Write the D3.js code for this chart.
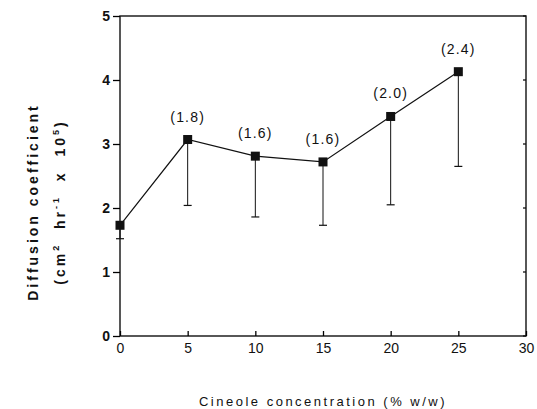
<!DOCTYPE html>
<html>
<head>
<meta charset="utf-8">
<script src="https://cdn.jsdelivr.net/npm/d3@7"></script>
<style>
  body { margin: 0; background: #fff; }
  text { font-family: "Liberation Sans", Arial, sans-serif; fill: #111; }
</style>
</head>
<body>
<script>
// cineole concentration (% w/w)
var conc = [0, 5, 10, 15, 20, 25];
// diffusion coefficient (cm2 hr-1 x 10^5)
var diff = [1.73, 3.07, 2.81, 2.72, 3.43, 4.13];
// lower end of error bar
var lower = [1.52, 2.04, 1.86, 1.73, 2.05, 2.65];
// numbers in brackets above points
var notes = ['', '(1.8)', '(1.6)', '(1.6)', '(2.0)', '(2.4)'];
var xTicks = [0, 5, 10, 15, 20, 25, 30];
var yTicks = [0, 1, 2, 3, 4, 5];

var w = 537, h = 409;
// plot box (note: "top" is taken by window.top)
var pL = 120, pR = 526, pT = 16, pB = 336;

var svg = d3.select("body").append("svg")
    .attr("width", w)
    .attr("height", h);

var x = d3.scaleLinear().domain([0, 30]).range([pL, pR]);
var y = d3.scaleLinear().domain([0, 5]).range([pB, pT]);

// frame
svg.append("rect")
    .attr("x", pL).attr("y", pT)
    .attr("width", pR - pL).attr("height", pB - pT)
    .attr("fill", "none").attr("stroke", "#111").attr("stroke-width", 1.4);

var yAxis = svg.append("g")
    .attr("transform", "translate(" + pL + ",0)")
    .call(d3.axisLeft(y).tickValues(yTicks).tickSize(7).tickPadding(3).tickFormat(d3.format("d")));
yAxis.select(".domain").remove();
yAxis.selectAll("text").attr("font-size", 14).attr("font-weight", "bold");

var xAxis = svg.append("g")
    .attr("transform", "translate(0," + pB + ")")
    .call(d3.axisBottom(x).tickValues(xTicks).tickSize(-5).tickPadding(4).tickFormat(d3.format("d")));
xAxis.select(".domain").remove();
xAxis.selectAll("text").attr("font-size", 14).attr("dy", "0.9em");

// small ticks on the right edge
svg.selectAll(".rtick")
    .data(yTicks)
    .enter()
    .append("line")
    .attr("x1", pR - 3).attr("x2", pR)
    .attr("y1", function(d) { return y(d); })
    .attr("y2", function(d) { return y(d); })
    .attr("stroke", "#111");

svg.selectAll("line, path").attr("stroke-width", 1.3);

// error bars (lower only)
var bars = svg.selectAll(".err")
    .data(conc)
    .enter()
    .append("g");
bars.append("line")
    .attr("x1", function(d) { return x(d); })
    .attr("x2", function(d) { return x(d); })
    .attr("y1", function(d, i) { return y(diff[i]); })
    .attr("y2", function(d, i) { return y(lower[i]); })
    .attr("stroke", "#111").attr("stroke-width", 1);
bars.append("line")
    .attr("x1", function(d) { return x(d) - 4; })
    .attr("x2", function(d) { return x(d) + 4; })
    .attr("y1", function(d, i) { return y(lower[i]); })
    .attr("y2", function(d, i) { return y(lower[i]); })
    .attr("stroke", "#111").attr("stroke-width", 1.2);

// line through the means
var line = d3.line()
    .x(function(d) { return x(d); })
    .y(function(d, i) { return y(diff[i]); });
svg.append("path")
    .datum(conc)
    .attr("d", line)
    .attr("fill", "none")
    .attr("stroke", "#111")
    .attr("stroke-width", 1.2);

svg.selectAll(".pt")
    .data(conc)
    .enter()
    .append("rect")
    .attr("x", function(d) { return x(d) - 4.5; })
    .attr("y", function(d, i) { return y(diff[i]) - 4.5; })
    .attr("width", 9).attr("height", 9)
    .attr("fill", "#111");

svg.selectAll(".note")
    .data(conc)
    .enter()
    .append("text")
    .text(function(d, i) { return notes[i]; })
    .attr("x", function(d) { return x(d); })
    .attr("y", function(d, i) { return y(diff[i]) - 18; })
    .attr("text-anchor", "middle")
    .attr("font-size", 14)
    .attr("letter-spacing", 1.2);

// axis titles
svg.append("text")
    .attr("x", (pL + pR) / 2)
    .attr("y", 406)
    .attr("text-anchor", "middle")
    .attr("font-size", 13)
    .attr("letter-spacing", 2.5)
    .text("Cineole concentration (% w/w)");

var yt = svg.append("g")
    .attr("transform", "translate(38,202) rotate(-90)");
yt.append("text")
    .attr("text-anchor", "middle")
    .attr("font-size", 14)
    .attr("font-weight", "bold")
    .attr("letter-spacing", 3)
    .text("Diffusion coefficient");
var t2 = yt.append("text")
    .attr("y", 27)
    .attr("text-anchor", "middle")
    .attr("font-size", 14)
    .attr("font-weight", "bold")
    .attr("letter-spacing", 3)
    .attr("xml:space", "preserve")
    .style("white-space", "pre");
t2.append("tspan").text("(cm");
t2.append("tspan").attr("dy", -6).attr("font-size", 9).text("2");
t2.append("tspan").attr("dy", 6).text("  hr");
t2.append("tspan").attr("dy", -6).attr("font-size", 9).text("-1");
t2.append("tspan").attr("dy", 6).text("  x  10");
t2.append("tspan").attr("dy", -6).attr("font-size", 9).text("5");
t2.append("tspan").attr("dy", 6).text(")");
</script>
</body>
</html>
